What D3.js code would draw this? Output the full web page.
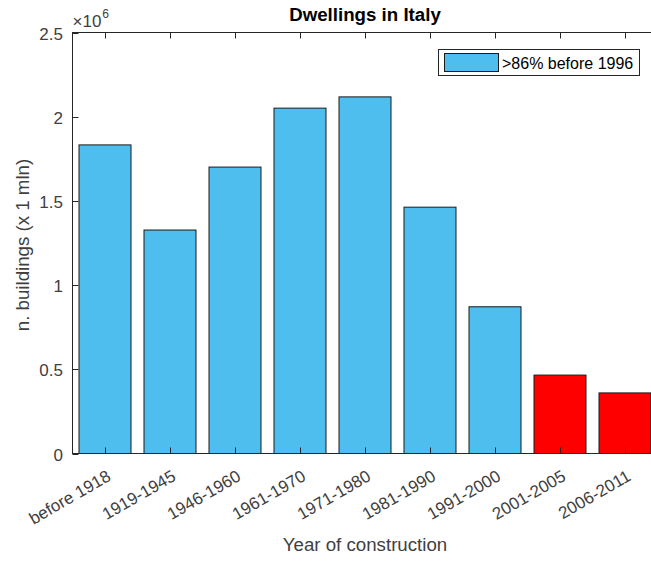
<!DOCTYPE html>
<html>
<head>
<meta charset="utf-8">
<script src="https://cdn.jsdelivr.net/npm/d3@7"></script>
<style>
  html, body { margin: 0; padding: 0; background: #fff; }
  svg { display: block; font-family: "Liberation Sans", Arial, Helvetica, sans-serif; }
</style>
</head>
<body>
<svg id="chart" width="651" height="563"></svg>
<script>
// Dwellings in Italy by period of construction (census figures)
const categories = ["before 1918", "1919-1945", "1946-1960", "1961-1970", "1971-1980",
                    "1981-1990", "1991-2000", "2001-2005", "2006-2011"];
const dwellings = [1832504, 1327007, 1700834, 2050833, 2117651, 1462766, 871264, 465693, 359761];
const recent = [false, false, false, false, false, false, false, true, true];
const yTicks = [0, 0.5e6, 1e6, 1.5e6, 2e6, 2.5e6];
const yTickLabels = ["0", "0.5", "1", "1.5", "2", "2.5"];
const legendLabel = ">86% before 1996";

const svg = d3.select("#chart");
const plotLeft = 72.5, plotRight = 657.5, plotTop = 32.5, plotBottom = 453.5;
const axisColor = "#262626";
const textColor = "#404040";
const tickFont = 17, labelFont = 18.7;

// Category positions 1..9 with limits [0.5, 9.5], bar width 0.8
const x = d3.scaleLinear().domain([0.5, categories.length + 0.5]).range([plotLeft, plotRight]);
const y = d3.scaleLinear().domain([0, 2.5e6]).range([plotBottom, plotTop]);
const barW = x(1.8) - x(1);

// Bars
svg.append("g").selectAll("rect")
  .data(dwellings)
  .join("rect")
  .attr("x", (d, i) => x(i + 1) - barW / 2)
  .attr("y", d => y(d))
  .attr("width", barW)
  .attr("height", d => y(0) - y(d))
  .attr("fill", (d, i) => recent[i] ? "#FF0000" : "#4DBEEE")
  .attr("stroke", "#1a1a1a")
  .attr("stroke-width", 1);

// Axes box and inward ticks
const box = svg.append("g");
box.append("rect")
  .attr("x", plotLeft).attr("y", plotTop)
  .attr("width", plotRight - plotLeft).attr("height", plotBottom - plotTop)
  .attr("fill", "none").attr("stroke", axisColor).attr("stroke-width", 1);

const tickLen = 6;
const xIdx = d3.range(1, categories.length + 1);
box.selectAll("line.xb").data(xIdx).join("line")
  .attr("x1", d => Math.round(x(d)) + 0.5).attr("x2", d => Math.round(x(d)) + 0.5)
  .attr("y1", plotBottom).attr("y2", plotBottom - tickLen)
  .attr("stroke", axisColor);
box.selectAll("line.xt").data(xIdx).join("line")
  .attr("x1", d => Math.round(x(d)) + 0.5).attr("x2", d => Math.round(x(d)) + 0.5)
  .attr("y1", plotTop).attr("y2", plotTop + tickLen)
  .attr("stroke", axisColor);
box.selectAll("line.yl").data(yTicks).join("line")
  .attr("x1", plotLeft).attr("x2", plotLeft + tickLen)
  .attr("y1", d => Math.round(y(d)) + 0.5).attr("y2", d => Math.round(y(d)) + 0.5)
  .attr("stroke", axisColor);

// Y tick labels
svg.append("g").selectAll("text").data(yTicks).join("text")
  .attr("x", plotLeft - 9.5)
  .attr("y", d => y(d) + 7)
  .attr("text-anchor", "end")
  .attr("font-size", tickFont)
  .attr("fill", textColor)
  .text((d, i) => yTickLabels[i]);

// Exponent marker
const ex = svg.append("text")
  .attr("x", plotLeft).attr("y", 27)
  .attr("font-size", 17).attr("fill", textColor);
ex.append("tspan").text("\u00D710");
ex.append("tspan").attr("font-size", 12).attr("dy", -9).attr("dx", 1).text("6");

// X tick labels, rotated
svg.append("g").selectAll("text").data(categories).join("text")
  .attr("transform", (d, i) => `translate(${x(i + 1) + 7},${plotBottom + 26}) rotate(-30)`)
  .attr("text-anchor", "end")
  .attr("font-size", tickFont)
  .attr("fill", textColor)
  .text(d => d);

// Axis titles
svg.append("text")
  .attr("x", (plotLeft + plotRight) / 2).attr("y", 551)
  .attr("text-anchor", "middle")
  .attr("font-size", labelFont).attr("fill", textColor)
  .text("Year of construction");

svg.append("text")
  .attr("transform", `translate(29,245) rotate(-90)`)
  .attr("text-anchor", "middle")
  .attr("font-size", labelFont).attr("fill", textColor)
  .text("n. buildings (x 1 mln)");

// Title
svg.append("text")
  .attr("x", (plotLeft + plotRight) / 2).attr("y", 21)
  .attr("text-anchor", "middle")
  .attr("font-size", labelFont).attr("font-weight", "bold").attr("fill", "#000")
  .text("Dwellings in Italy");

// Legend
const lg = svg.append("g").attr("transform", "translate(438.5,49.5)");
lg.append("rect").attr("width", 201).attr("height", 26)
  .attr("fill", "#fff").attr("stroke", axisColor).attr("stroke-width", 1);
lg.append("rect").attr("x", 6).attr("y", 4).attr("width", 54).attr("height", 18)
  .attr("fill", "#4DBEEE").attr("stroke", "#1a1a1a");
lg.append("text").attr("x", 63.5).attr("y", 19)
  .attr("font-size", 16).attr("fill", "#000")
  .text(legendLabel);
</script>
</body>
</html>
